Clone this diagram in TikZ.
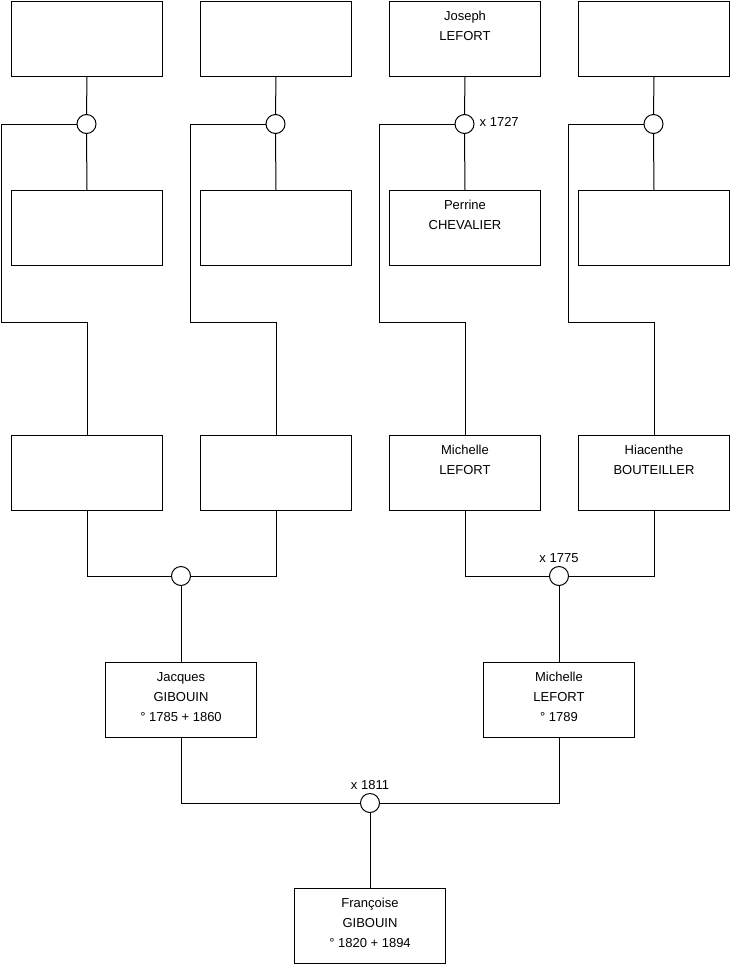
\documentclass[tikz,border=0pt]{standalone}
\usepackage{fontspec}
\setmainfont{Liberation Sans}
\begin{document}
\begin{tikzpicture}[x=1pt,y=-1pt,
  person/.style={draw=black, line width=1pt, minimum width=151pt, minimum height=75pt, inner sep=0pt, anchor=north west, fill=white},
  txt/.style={anchor=north, inner sep=0pt, align=center, font=\fontsize{13}{20}\selectfont},
  union/.style={circle, draw=black, line width=1pt, minimum size=19pt, inner sep=0pt, fill=white},
  lbl/.style={inner sep=0pt, font=\fontsize{13}{15}\selectfont},
  link/.style={draw=black, line width=1pt}]
\useasboundingbox (0,0) rectangle (740,975);
% boxes
\node[person] (a1) at (11,1) {};
\node[person] (a2) at (200,1) {};
\node[person] (a3) at (389,1) {};
\node[person] (a4) at (578,1) {};
\node[person] (b1) at (11,190) {};
\node[person] (b2) at (200,190) {};
\node[person] (b3) at (389,190) {};
\node[person] (b4) at (578,190) {};
\node[person] (c1) at (11,435) {};
\node[person] (c2) at (200,435) {};
\node[person] (c3) at (389,435) {};
\node[person] (c4) at (578,435) {};
\node[person] (d1) at (105,662) {};
\node[person] (d2) at (483,662) {};
\node[person] (e) at (294,888) {};
% texts
\node[txt] (ta3) at ([yshift=-10pt]a3.north) {Joseph\\LEFORT};
\node[txt] (tb3) at ([yshift=-10pt]b3.north) {Perrine\\CHEVALIER};
\node[txt] (tc3) at ([yshift=-10pt]c3.north) {Michelle\\LEFORT};
\node[txt] (tc4) at ([yshift=-10pt]c4.north) {Hiacenthe\\BOUTEILLER};
\node[txt] (td1) at ([yshift=-10pt]d1.north) {Jacques\\GIBOUIN\\° 1785 + 1860};
\node[txt] (td2) at ([yshift=-10pt]d2.north) {Michelle\\LEFORT\\° 1789};
\node[txt] (te) at ([yshift=-10pt]e.north) {Françoise\\GIBOUIN\\° 1820 + 1894};
% union circles
\node[union] (m1) at (86.5,124) {};
\node[union] (m2) at (275.5,124) {};
\node[union] (m3) at (464.5,124) {};
\node[union] (m4) at (653.5,124) {};
\node[union] (n1) at (181,576) {};
\node[union] (n2) at (559,576) {};
\node[union] (o) at (370,803) {};
% coordinates for spouse lines
\coordinate (k1) at (1.5,124);   \coordinate (j1) at (1.5,322);
\coordinate (k2) at (190.5,124); \coordinate (j2) at (190.5,322);
\coordinate (k3) at (379.5,124); \coordinate (j3) at (379.5,322);
\coordinate (k4) at (568.5,124); \coordinate (j4) at (568.5,322);
% connectors
\foreach \i in {1,2,3,4}{
  \draw[link] (a\i.south) -- (m\i.north);
  \draw[link] (m\i.south) -- (b\i.north);
  \draw[link] (m\i.west) -- (k\i) -- (j\i) -| (c\i.north);
}
\draw[link] (c1.south) |- (n1.west);
\draw[link] (c2.south) |- (n1.east);
\draw[link] (n1.south) -- (d1.north);
\draw[link] (c3.south) |- (n2.west);
\draw[link] (c4.south) |- (n2.east);
\draw[link] (n2.south) -- (d2.north);
\draw[link] (d1.south) |- (o.west);
\draw[link] (d2.south) |- (o.east);
\draw[link] (o.south) -- (e.north);
% labels
\node[lbl, anchor=mid west] (l1) at ([xshift=5pt]m3.east) {x 1727};
\node[lbl, anchor=base] (l2) at ([yshift=3.5pt]n2.north) {x 1775};
\node[lbl, anchor=base] (l3) at ([yshift=3.5pt]o.north) {x 1811};
\end{tikzpicture}
\end{document}
